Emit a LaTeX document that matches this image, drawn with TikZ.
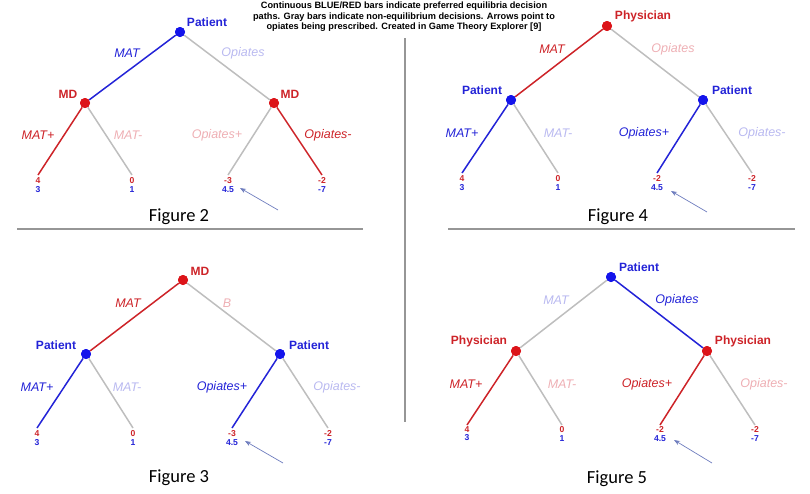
\documentclass[tikz,border=0pt]{standalone}
\usepackage{fontspec}
\setmainfont{Liberation Sans}
\newfontfamily\capfont{Carlito}
\usetikzlibrary{arrows.meta,positioning}

\definecolor{pblue}{RGB}{35,35,215}
\definecolor{pred}{RGB}{205,35,40}
\definecolor{dblue}{RGB}{20,20,235}
\definecolor{dred}{RGB}{220,20,25}
\definecolor{lgray}{RGB}{190,190,190}
\definecolor{lblue}{RGB}{185,185,240}
\definecolor{lred}{RGB}{238,175,180}
\definecolor{hintc}{RGB}{110,125,190}
\definecolor{sepc}{RGB}{150,150,150}

\tikzset{
  dot/.style={circle, inner sep=0pt, minimum size=10pt},
  player/.style={font=\bfseries\fontsize{12}{12}\selectfont, inner sep=0pt},
  move/.style={font=\itshape\fontsize{12.5}{12.5}\selectfont, inner sep=0pt},
  payoff/.style={font=\bfseries\fontsize{8.6}{8.8}\selectfont, align=center, inner sep=0pt},
  caption/.style={font=\capfont\fontsize{18.5}{18.5}\selectfont, inner sep=0pt},
  branch/.style={line width=1.5pt},
  hint/.style={->, >={Stealth[length=6pt,width=4.5pt]}, draw=hintc, line width=0.7pt}
}

\begin{document}
\begin{tikzpicture}[x=1pt, y=-1pt]
    \useasboundingbox (0,0) rectangle (810,493);

    % Header
    \node[font=\bfseries\fontsize{9.2}{10.6}\selectfont, align=center] (head) at (404,17)
      {Continuous BLUE/RED bars indicate preferred equilibria decision\\
       paths. Gray bars indicate non-equilibrium decisions. Arrows point to\\
       opiates being prescribed. Created in Game Theory Explorer [9]};

    % Separators
    \draw[sepc, line width=1.2pt] (17,229) -- (363,229);
    \draw[sepc, line width=1.2pt] (448,229) -- (795,229);
    \draw[sepc, line width=1.2pt] (405,38) -- (405,422);

    % Figure 2
    \node[dot, fill=dblue] (p2) at (180,32) {};
    \node[dot, fill=dred] (a2) at (85,103) {};
    \node[dot, fill=dred] (b2) at (274,103) {};
    \coordinate (a2l) at (38,175);
    \coordinate (a2r) at (132,175);
    \coordinate (b2l) at (228,175);
    \coordinate (b2r) at (322,175);
    \draw[branch, pblue] (p2) -- (a2);
    \draw[branch, lgray] (p2) -- (b2);
    \draw[branch, pred] (a2) -- (a2l);
    \draw[branch, lgray] (a2) -- (a2r);
    \draw[branch, lgray] (b2) -- (b2l);
    \draw[branch, pred] (b2) -- (b2r);
    \node[dot, fill=dblue] at (p2) {};
    \node[dot, fill=dred] at (a2) {};
    \node[dot, fill=dred] at (b2) {};
    \node[player, pblue] at (207,22) {Patient};
    \node[player, pred] at (68,94) {MD};
    \node[player, pred] at (290,94) {MD};
    \node[move, pblue] at (127,53) {MAT};
    \node[move, lblue] at (243,53) {Opiates};
    \node[move, pred] at (38,135) {MAT+};
    \node[move, lred] at (128,135) {MAT-};
    \node[move, lred] at (217,135) {Opiates+};
    \node[move, pred] at (328,135) {Opiates-};
    \node[payoff, below=2.5pt of a2l] (q2a) {\textcolor{pred}{4}\\\textcolor{pblue}{3}};
    \node[payoff, below=2.5pt of a2r] (q2b) {\textcolor{pred}{0}\\\textcolor{pblue}{1}};
    \node[payoff, below=2.5pt of b2l] (q2c) {\textcolor{pred}{-3}\\\textcolor{pblue}{4.5}};
    \node[payoff, below=2.5pt of b2r] (q2d) {\textcolor{pred}{-2}\\\textcolor{pblue}{-7}};
    \coordinate (h2a) at (278,210);
    \coordinate (h2b) at (240,188);
    \draw[hint] (h2a) -- (h2b);
    \node[caption] (c2) at (179,217) {Figure 2};

    % Figure 4
    \node[dot, fill=dred] (p4) at (607,26) {};
    \node[dot, fill=dblue] (a4) at (511,100) {};
    \node[dot, fill=dblue] (b4) at (703,100) {};
    \coordinate (a4l) at (462,173);
    \coordinate (a4r) at (558,173);
    \coordinate (b4l) at (657,173);
    \coordinate (b4r) at (752,173);
    \draw[branch, pred] (p4) -- (a4);
    \draw[branch, lgray] (p4) -- (b4);
    \draw[branch, pblue] (a4) -- (a4l);
    \draw[branch, lgray] (a4) -- (a4r);
    \draw[branch, pblue] (b4) -- (b4l);
    \draw[branch, lgray] (b4) -- (b4r);
    \node[dot, fill=dred] at (p4) {};
    \node[dot, fill=dblue] at (a4) {};
    \node[dot, fill=dblue] at (b4) {};
    \node[player, pred] at (643,16) {Physician};
    \node[player, pblue] at (482,90) {Patient};
    \node[player, pblue] at (732,90) {Patient};
    \node[move, pred] at (552,49) {MAT};
    \node[move, lred] at (673,49) {Opiates};
    \node[move, pblue] at (462,133) {MAT+};
    \node[move, lblue] at (558,133) {MAT-};
    \node[move, pblue] at (644,133) {Opiates+};
    \node[move, lblue] at (762,133) {Opiates-};
    \node[payoff, below=2.5pt of a4l] (q4a) {\textcolor{pred}{4}\\\textcolor{pblue}{3}};
    \node[payoff, below=2.5pt of a4r] (q4b) {\textcolor{pred}{0}\\\textcolor{pblue}{1}};
    \node[payoff, below=2.5pt of b4l] (q4c) {\textcolor{pred}{-2}\\\textcolor{pblue}{4.5}};
    \node[payoff, below=2.5pt of b4r] (q4d) {\textcolor{pred}{-2}\\\textcolor{pblue}{-7}};
    \coordinate (h4a) at (707,212);
    \coordinate (h4b) at (671,191);
    \draw[hint] (h4a) -- (h4b);
    \node[caption] (c4) at (618,217) {Figure 4};

    % Figure 3
    \node[dot, fill=dred] (p3) at (183,280) {};
    \node[dot, fill=dblue] (a3) at (86,354) {};
    \node[dot, fill=dblue] (b3) at (280,354) {};
    \coordinate (a3l) at (37,428);
    \coordinate (a3r) at (133,428);
    \coordinate (b3l) at (232,428);
    \coordinate (b3r) at (328,428);
    \draw[branch, pred] (p3) -- (a3);
    \draw[branch, lgray] (p3) -- (b3);
    \draw[branch, pblue] (a3) -- (a3l);
    \draw[branch, lgray] (a3) -- (a3r);
    \draw[branch, pblue] (b3) -- (b3l);
    \draw[branch, lgray] (b3) -- (b3r);
    \node[dot, fill=dred] at (p3) {};
    \node[dot, fill=dblue] at (a3) {};
    \node[dot, fill=dblue] at (b3) {};
    \node[player, pred] at (200,271) {MD};
    \node[player, pblue] at (56,345) {Patient};
    \node[player, pblue] at (309,345) {Patient};
    \node[move, pred] at (128,303) {MAT};
    \node[move, lred] at (227,303) {B};
    \node[move, pblue] at (37,387) {MAT+};
    \node[move, lblue] at (127,387) {MAT-};
    \node[move, pblue] at (222,387) {Opiates+};
    \node[move, lblue] at (337,387) {Opiates-};
    \node[payoff, below=2.5pt of a3l] (q3a) {\textcolor{pred}{4}\\\textcolor{pblue}{3}};
    \node[payoff, below=2.5pt of a3r] (q3b) {\textcolor{pred}{0}\\\textcolor{pblue}{1}};
    \node[payoff, below=2.5pt of b3l] (q3c) {\textcolor{pred}{-3}\\\textcolor{pblue}{4.5}};
    \node[payoff, below=2.5pt of b3r] (q3d) {\textcolor{pred}{-2}\\\textcolor{pblue}{-7}};
    \coordinate (h3a) at (283,463);
    \coordinate (h3b) at (245,441);
    \draw[hint] (h3a) -- (h3b);
    \node[caption] (c3) at (179,478) {Figure 3};

    % Figure 5
    \node[dot, fill=dblue] (p5) at (611,277) {};
    \node[dot, fill=dred] (a5) at (516,351) {};
    \node[dot, fill=dred] (b5) at (707,351) {};
    \coordinate (a5l) at (467,425);
    \coordinate (a5r) at (562,425);
    \coordinate (b5l) at (660,425);
    \coordinate (b5r) at (755,425);
    \draw[branch, lgray] (p5) -- (a5);
    \draw[branch, pblue] (p5) -- (b5);
    \draw[branch, pred] (a5) -- (a5l);
    \draw[branch, lgray] (a5) -- (a5r);
    \draw[branch, pred] (b5) -- (b5l);
    \draw[branch, lgray] (b5) -- (b5r);
    \node[dot, fill=dblue] at (p5) {};
    \node[dot, fill=dred] at (a5) {};
    \node[dot, fill=dred] at (b5) {};
    \node[player, pblue] at (639,267) {Patient};
    \node[player, pred] at (479,341) {Physician};
    \node[player, pred] at (743,341) {Physician};
    \node[move, lblue] at (556,300) {MAT};
    \node[move, pblue] at (677,300) {Opiates};
    \node[move, pred] at (466,384) {MAT+};
    \node[move, lred] at (562,384) {MAT-};
    \node[move, pred] at (647,384) {Opiates+};
    \node[move, lred] at (764,384) {Opiates-};
    \node[payoff, below=1pt of a5l] (q5a) {\textcolor{pred}{4}\\\textcolor{pblue}{3}};
    \node[payoff, below=1pt of a5r] (q5b) {\textcolor{pred}{0}\\\textcolor{pblue}{1}};
    \node[payoff, below=1pt of b5l] (q5c) {\textcolor{pred}{-2}\\\textcolor{pblue}{4.5}};
    \node[payoff, below=1pt of b5r] (q5d) {\textcolor{pred}{-2}\\\textcolor{pblue}{-7}};
    \coordinate (h5a) at (712,463);
    \coordinate (h5b) at (674,440);
    \draw[hint] (h5a) -- (h5b);
    \node[caption] (c5) at (617,479) {Figure 5};
\end{tikzpicture}
\end{document}
